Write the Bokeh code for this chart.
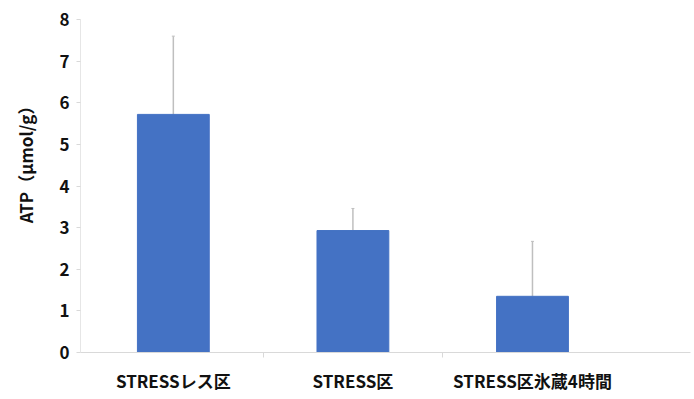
from bokeh.plotting import figure
from bokeh.models import ColumnDataSource, Range1d, FixedTicker, Whisker
from bokeh.embed import file_html
from bokeh.resources import INLINE

categories = ["STRESSレス区", "STRESS区", "STRESS区氷蔵4時間"]
atp_mean = [5.72, 2.93, 1.35]
atp_sd = [1.88, 0.53, 1.32]
y_ticks = [0, 1, 2, 3, 4, 5, 6, 7, 8]

xpos = [i + 0.5 for i in range(len(categories))]
src = ColumnDataSource(dict(
    x=xpos, top=atp_mean,
    upper=[m + s for m, s in zip(atp_mean, atp_sd)],
    lower=atp_mean,
))

p = figure(width=694, height=399, output_backend="svg", toolbar_location=None,
           x_range=Range1d(-0.017, 3.38), y_range=Range1d(0, 8),
           min_border_left=80, min_border_right=4, min_border_top=19, min_border_bottom=47)
p.outline_line_color = None
p.background_fill_color = "white"
p.border_fill_color = "white"
p.xgrid.grid_line_color = None
p.ygrid.grid_line_color = None

p.vbar(x="x", top="top", width=0.4, bottom=0, source=src,
       fill_color="#4472C4", line_color="#4472C4")
w = Whisker(base="x", upper="upper", lower="lower", source=src,
            line_color="#bfbfbf", line_width=1.5, level="underlay")
w.upper_head.size = 3
w.upper_head.line_color = "#bfbfbf"
w.lower_head.line_color = None
p.add_layout(w)

font = "Noto Sans CJK JP"
xa = p.xaxis[0]
xa.ticker = FixedTicker(ticks=xpos, minor_ticks=[1, 2])
xa.major_label_overrides = {x: c for x, c in zip(xpos, categories)}
xa.major_tick_line_color = None
xa.major_tick_out = 0
xa.major_tick_in = 0
xa.minor_tick_line_color = "#d9d9d9"
xa.minor_tick_out = 5
xa.minor_tick_in = 0
xa.axis_line_color = "#d9d9d9"
xa.major_label_text_font = font
xa.major_label_text_font_style = "bold"
xa.major_label_text_font_size = "17px"
xa.major_label_text_color = "#111111"
xa.major_label_standoff = 10

ya = p.yaxis[0]
ya.ticker = FixedTicker(ticks=y_ticks)
ya.axis_line_color = "#e6e6e6"
ya.major_tick_line_color = "#d9d9d9"
ya.major_tick_out = 4
ya.major_tick_in = 0
ya.minor_tick_line_color = None
ya.major_label_text_font = font
ya.major_label_text_font_style = "bold"
ya.major_label_text_font_size = "17px"
ya.major_label_text_color = "#111111"
ya.major_label_standoff = 7
ya.axis_label = "\u3000\u3000\u3000ATP（μmol/g）"
ya.axis_label_text_font = font
ya.axis_label_text_font_style = "bold"
ya.axis_label_text_font_size = "17px"
ya.axis_label_text_color = "#111111"
ya.axis_label_standoff = 18

open("out.html", "w").write(file_html(p, INLINE))
